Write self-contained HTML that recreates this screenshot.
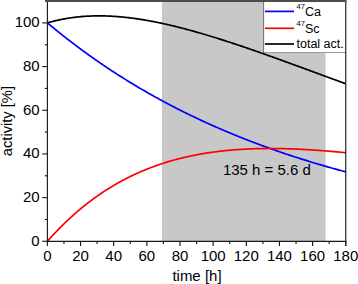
<!DOCTYPE html>
<html><head><meta charset="utf-8"><style>
html,body{margin:0;padding:0;background:#fff;}
body{width:358px;height:284px;overflow:hidden;position:relative;}
svg{position:absolute;left:0;top:0;}
text{font-family:"Liberation Sans",sans-serif;fill:#000;}
</style></head><body>
<svg width="358" height="284" viewBox="0 0 358 284">
<rect x="161.9" y="0" width="163.70" height="241.30" fill="#c8c8c8"/>
<rect x="263.6" y="0" width="82.15" height="52.5" fill="#fff"/><line x1="263.6" y1="0" x2="263.6" y2="53" stroke="#707070" stroke-width="1"/><line x1="263.1" y1="52.5" x2="345.75" y2="52.5" stroke="#999" stroke-width="1"/>
<g fill="none" stroke-width="1.7" stroke-linejoin="round">
<path d="M47.40,22.90 L48.23,22.66 L49.06,22.42 L49.89,22.19 L50.71,21.96 L51.54,21.74 L52.37,21.52 L53.20,21.31 L54.03,21.10 L54.86,20.90 L55.69,20.70 L56.52,20.50 L57.34,20.31 L58.17,20.12 L59.00,19.94 L59.83,19.77 L60.66,19.59 L61.49,19.42 L62.32,19.26 L63.15,19.10 L63.98,18.94 L64.80,18.79 L65.63,18.65 L66.46,18.50 L67.29,18.36 L68.12,18.23 L68.95,18.10 L69.78,17.97 L70.61,17.85 L71.43,17.73 L72.26,17.61 L73.09,17.50 L73.92,17.40 L74.75,17.29 L75.58,17.19 L76.41,17.10 L77.23,17.01 L78.06,16.92 L78.89,16.84 L79.72,16.76 L80.55,16.68 L81.38,16.61 L82.21,16.54 L83.04,16.47 L83.87,16.41 L84.69,16.35 L85.52,16.29 L86.35,16.24 L87.18,16.19 L88.01,16.15 L88.84,16.11 L89.67,16.07 L90.50,16.04 L91.32,16.01 L92.15,15.98 L92.98,15.95 L93.81,15.93 L94.64,15.91 L95.47,15.90 L96.30,15.89 L97.12,15.88 L97.95,15.87 L98.78,15.87 L99.61,15.87 L100.44,15.88 L101.27,15.89 L102.10,15.90 L102.93,15.91 L103.75,15.93 L104.58,15.94 L105.41,15.97 L106.24,15.99 L107.07,16.02 L107.90,16.05 L108.73,16.09 L109.56,16.12 L110.39,16.16 L111.21,16.20 L112.04,16.25 L112.87,16.30 L113.70,16.35 L114.53,16.40 L115.36,16.46 L116.19,16.52 L117.02,16.58 L117.84,16.64 L118.67,16.71 L119.50,16.78 L120.33,16.85 L121.16,16.92 L121.99,17.00 L122.82,17.08 L123.65,17.16 L124.47,17.25 L125.30,17.33 L126.13,17.42 L126.96,17.51 L127.79,17.61 L128.62,17.71 L129.45,17.80 L130.28,17.91 L131.10,18.01 L131.93,18.11 L132.76,18.22 L133.59,18.33 L134.42,18.45 L135.25,18.56 L136.08,18.68 L136.91,18.80 L137.73,18.92 L138.56,19.04 L139.39,19.17 L140.22,19.29 L141.05,19.42 L141.88,19.56 L142.71,19.69 L143.53,19.83 L144.36,19.96 L145.19,20.11 L146.02,20.25 L146.85,20.39 L147.68,20.54 L148.51,20.69 L149.34,20.84 L150.17,20.99 L150.99,21.14 L151.82,21.30 L152.65,21.45 L153.48,21.61 L154.31,21.77 L155.14,21.94 L155.97,22.10 L156.80,22.27 L157.62,22.44 L158.45,22.61 L159.28,22.78 L160.11,22.95 L160.94,23.13 L161.77,23.31 L162.60,23.48 L163.43,23.67 L164.25,23.85 L165.08,24.03 L165.91,24.22 L166.74,24.40 L167.57,24.59 L168.40,24.78 L169.23,24.97 L170.06,25.17 L170.88,25.36 L171.71,25.56 L172.54,25.75 L173.37,25.95 L174.20,26.15 L175.03,26.36 L175.86,26.56 L176.69,26.77 L177.51,26.97 L178.34,27.18 L179.17,27.39 L180.00,27.60 L180.83,27.81 L181.66,28.03 L182.49,28.24 L183.32,28.46 L184.14,28.67 L184.97,28.89 L185.80,29.11 L186.63,29.33 L187.46,29.56 L188.29,29.78 L189.12,30.01 L189.95,30.23 L190.77,30.46 L191.60,30.69 L192.43,30.92 L193.26,31.15 L194.09,31.38 L194.92,31.61 L195.75,31.85 L196.58,32.08 L197.40,32.32 L198.23,32.56 L199.06,32.80 L199.89,33.04 L200.72,33.28 L201.55,33.52 L202.38,33.77 L203.21,34.01 L204.03,34.25 L204.86,34.50 L205.69,34.75 L206.52,35.00 L207.35,35.25 L208.18,35.50 L209.01,35.75 L209.84,36.00 L210.66,36.25 L211.49,36.51 L212.32,36.76 L213.15,37.02 L213.98,37.27 L214.81,37.53 L215.64,37.79 L216.47,38.04 L217.29,38.30 L218.12,38.56 L218.95,38.82 L219.78,39.08 L220.61,39.34 L221.44,39.61 L222.27,39.87 L223.10,40.13 L223.92,40.40 L224.75,40.66 L225.58,40.93 L226.41,41.20 L227.24,41.46 L228.07,41.73 L228.90,42.00 L229.73,42.27 L230.55,42.54 L231.38,42.81 L232.21,43.09 L233.04,43.36 L233.87,43.63 L234.70,43.91 L235.53,44.18 L236.36,44.46 L237.18,44.73 L238.01,45.01 L238.84,45.29 L239.67,45.56 L240.50,45.84 L241.33,46.12 L242.16,46.40 L242.99,46.68 L243.81,46.96 L244.64,47.25 L245.47,47.53 L246.30,47.81 L247.13,48.09 L247.96,48.38 L248.79,48.66 L249.62,48.95 L250.44,49.23 L251.27,49.52 L252.10,49.80 L252.93,50.09 L253.76,50.38 L254.59,50.66 L255.42,50.95 L256.25,51.24 L257.07,51.53 L257.90,51.82 L258.73,52.11 L259.56,52.40 L260.39,52.69 L261.22,52.98 L262.05,53.27 L262.88,53.57 L263.70,53.86 L264.53,54.15 L265.36,54.44 L266.19,54.74 L267.02,55.03 L267.85,55.33 L268.68,55.62 L269.50,55.91 L270.33,56.21 L271.16,56.51 L271.99,56.80 L272.82,57.10 L273.65,57.39 L274.48,57.69 L275.31,57.99 L276.13,58.29 L276.96,58.58 L277.79,58.88 L278.62,59.18 L279.45,59.48 L280.28,59.78 L281.11,60.08 L281.94,60.38 L282.77,60.68 L283.59,60.98 L284.42,61.28 L285.25,61.58 L286.08,61.88 L286.91,62.18 L287.74,62.48 L288.57,62.78 L289.40,63.08 L290.22,63.38 L291.05,63.68 L291.88,63.99 L292.71,64.29 L293.54,64.59 L294.37,64.89 L295.20,65.20 L296.03,65.50 L296.85,65.80 L297.68,66.10 L298.51,66.41 L299.34,66.71 L300.17,67.01 L301.00,67.32 L301.83,67.62 L302.66,67.92 L303.48,68.23 L304.31,68.53 L305.14,68.84 L305.97,69.14 L306.80,69.45 L307.63,69.75 L308.46,70.05 L309.29,70.36 L310.11,70.66 L310.94,70.97 L311.77,71.27 L312.60,71.58 L313.43,71.88 L314.26,72.19 L315.09,72.49 L315.92,72.80 L316.74,73.10 L317.57,73.41 L318.40,73.71 L319.23,74.02 L320.06,74.32 L320.89,74.63 L321.72,74.93 L322.55,75.24 L323.37,75.54 L324.20,75.85 L325.03,76.15 L325.86,76.46 L326.69,76.76 L327.52,77.07 L328.35,77.37 L329.18,77.68 L330.00,77.98 L330.83,78.29 L331.66,78.59 L332.49,78.90 L333.32,79.20 L334.15,79.51 L334.98,79.81 L335.81,80.12 L336.63,80.42 L337.46,80.73 L338.29,81.03 L339.12,81.33 L339.95,81.64 L340.78,81.94 L341.61,82.25 L342.44,82.55 L343.26,82.85 L344.09,83.16 L344.92,83.46 L345.75,83.77" stroke="#000"/>
<path d="M47.40,22.90 L48.23,23.59 L49.06,24.29 L49.89,24.98 L50.71,25.66 L51.54,26.35 L52.37,27.03 L53.20,27.71 L54.03,28.39 L54.86,29.07 L55.69,29.74 L56.52,30.42 L57.34,31.09 L58.17,31.75 L59.00,32.42 L59.83,33.08 L60.66,33.75 L61.49,34.41 L62.32,35.06 L63.15,35.72 L63.98,36.37 L64.80,37.02 L65.63,37.67 L66.46,38.32 L67.29,38.97 L68.12,39.61 L68.95,40.25 L69.78,40.89 L70.61,41.53 L71.43,42.16 L72.26,42.79 L73.09,43.43 L73.92,44.05 L74.75,44.68 L75.58,45.31 L76.41,45.93 L77.23,46.55 L78.06,47.17 L78.89,47.79 L79.72,48.40 L80.55,49.01 L81.38,49.63 L82.21,50.23 L83.04,50.84 L83.87,51.45 L84.69,52.05 L85.52,52.65 L86.35,53.25 L87.18,53.85 L88.01,54.45 L88.84,55.04 L89.67,55.63 L90.50,56.22 L91.32,56.81 L92.15,57.40 L92.98,57.98 L93.81,58.56 L94.64,59.14 L95.47,59.72 L96.30,60.30 L97.12,60.88 L97.95,61.45 L98.78,62.02 L99.61,62.59 L100.44,63.16 L101.27,63.73 L102.10,64.29 L102.93,64.85 L103.75,65.41 L104.58,65.97 L105.41,66.53 L106.24,67.09 L107.07,67.64 L107.90,68.19 L108.73,68.74 L109.56,69.29 L110.39,69.84 L111.21,70.38 L112.04,70.92 L112.87,71.47 L113.70,72.01 L114.53,72.54 L115.36,73.08 L116.19,73.62 L117.02,74.15 L117.84,74.68 L118.67,75.21 L119.50,75.74 L120.33,76.26 L121.16,76.79 L121.99,77.31 L122.82,77.83 L123.65,78.35 L124.47,78.87 L125.30,79.39 L126.13,79.90 L126.96,80.41 L127.79,80.93 L128.62,81.44 L129.45,81.94 L130.28,82.45 L131.10,82.95 L131.93,83.46 L132.76,83.96 L133.59,84.46 L134.42,84.96 L135.25,85.46 L136.08,85.95 L136.91,86.44 L137.73,86.94 L138.56,87.43 L139.39,87.92 L140.22,88.40 L141.05,88.89 L141.88,89.37 L142.71,89.86 L143.53,90.34 L144.36,90.82 L145.19,91.30 L146.02,91.77 L146.85,92.25 L147.68,92.72 L148.51,93.20 L149.34,93.67 L150.17,94.14 L150.99,94.60 L151.82,95.07 L152.65,95.53 L153.48,96.00 L154.31,96.46 L155.14,96.92 L155.97,97.38 L156.80,97.84 L157.62,98.29 L158.45,98.75 L159.28,99.20 L160.11,99.65 L160.94,100.10 L161.77,100.55 L162.60,101.00 L163.43,101.44 L164.25,101.89 L165.08,102.33 L165.91,102.77 L166.74,103.21 L167.57,103.65 L168.40,104.09 L169.23,104.53 L170.06,104.96 L170.88,105.39 L171.71,105.83 L172.54,106.26 L173.37,106.69 L174.20,107.11 L175.03,107.54 L175.86,107.97 L176.69,108.39 L177.51,108.81 L178.34,109.23 L179.17,109.65 L180.00,110.07 L180.83,110.49 L181.66,110.90 L182.49,111.32 L183.32,111.73 L184.14,112.14 L184.97,112.55 L185.80,112.96 L186.63,113.37 L187.46,113.78 L188.29,114.18 L189.12,114.59 L189.95,114.99 L190.77,115.39 L191.60,115.79 L192.43,116.19 L193.26,116.59 L194.09,116.98 L194.92,117.38 L195.75,117.77 L196.58,118.17 L197.40,118.56 L198.23,118.95 L199.06,119.34 L199.89,119.72 L200.72,120.11 L201.55,120.50 L202.38,120.88 L203.21,121.26 L204.03,121.64 L204.86,122.02 L205.69,122.40 L206.52,122.78 L207.35,123.16 L208.18,123.53 L209.01,123.91 L209.84,124.28 L210.66,124.65 L211.49,125.02 L212.32,125.39 L213.15,125.76 L213.98,126.13 L214.81,126.50 L215.64,126.86 L216.47,127.22 L217.29,127.59 L218.12,127.95 L218.95,128.31 L219.78,128.67 L220.61,129.03 L221.44,129.38 L222.27,129.74 L223.10,130.09 L223.92,130.45 L224.75,130.80 L225.58,131.15 L226.41,131.50 L227.24,131.85 L228.07,132.20 L228.90,132.54 L229.73,132.89 L230.55,133.23 L231.38,133.58 L232.21,133.92 L233.04,134.26 L233.87,134.60 L234.70,134.94 L235.53,135.28 L236.36,135.62 L237.18,135.95 L238.01,136.29 L238.84,136.62 L239.67,136.95 L240.50,137.29 L241.33,137.62 L242.16,137.95 L242.99,138.27 L243.81,138.60 L244.64,138.93 L245.47,139.25 L246.30,139.58 L247.13,139.90 L247.96,140.22 L248.79,140.54 L249.62,140.86 L250.44,141.18 L251.27,141.50 L252.10,141.82 L252.93,142.14 L253.76,142.45 L254.59,142.76 L255.42,143.08 L256.25,143.39 L257.07,143.70 L257.90,144.01 L258.73,144.32 L259.56,144.63 L260.39,144.94 L261.22,145.24 L262.05,145.55 L262.88,145.85 L263.70,146.16 L264.53,146.46 L265.36,146.76 L266.19,147.06 L267.02,147.36 L267.85,147.66 L268.68,147.96 L269.50,148.25 L270.33,148.55 L271.16,148.84 L271.99,149.14 L272.82,149.43 L273.65,149.72 L274.48,150.01 L275.31,150.30 L276.13,150.59 L276.96,150.88 L277.79,151.17 L278.62,151.45 L279.45,151.74 L280.28,152.03 L281.11,152.31 L281.94,152.59 L282.77,152.87 L283.59,153.15 L284.42,153.44 L285.25,153.71 L286.08,153.99 L286.91,154.27 L287.74,154.55 L288.57,154.82 L289.40,155.10 L290.22,155.37 L291.05,155.64 L291.88,155.92 L292.71,156.19 L293.54,156.46 L294.37,156.73 L295.20,157.00 L296.03,157.27 L296.85,157.53 L297.68,157.80 L298.51,158.06 L299.34,158.33 L300.17,158.59 L301.00,158.86 L301.83,159.12 L302.66,159.38 L303.48,159.64 L304.31,159.90 L305.14,160.16 L305.97,160.42 L306.80,160.67 L307.63,160.93 L308.46,161.18 L309.29,161.44 L310.11,161.69 L310.94,161.95 L311.77,162.20 L312.60,162.45 L313.43,162.70 L314.26,162.95 L315.09,163.20 L315.92,163.45 L316.74,163.69 L317.57,163.94 L318.40,164.19 L319.23,164.43 L320.06,164.68 L320.89,164.92 L321.72,165.16 L322.55,165.40 L323.37,165.65 L324.20,165.89 L325.03,166.13 L325.86,166.37 L326.69,166.60 L327.52,166.84 L328.35,167.08 L329.18,167.31 L330.00,167.55 L330.83,167.78 L331.66,168.02 L332.49,168.25 L333.32,168.48 L334.15,168.71 L334.98,168.94 L335.81,169.17 L336.63,169.40 L337.46,169.63 L338.29,169.86 L339.12,170.09 L339.95,170.31 L340.78,170.54 L341.61,170.76 L342.44,170.99 L343.26,171.21 L344.09,171.43 L344.92,171.66 L345.75,171.88" stroke="#0000ff"/>
<path d="M47.40,241.30 L48.23,240.36 L49.06,239.43 L49.89,238.51 L50.71,237.59 L51.54,236.68 L52.37,235.78 L53.20,234.88 L54.03,233.99 L54.86,233.11 L55.69,232.23 L56.52,231.36 L57.34,230.50 L58.17,229.64 L59.00,228.79 L59.83,227.95 L60.66,227.11 L61.49,226.28 L62.32,225.46 L63.15,224.64 L63.98,223.83 L64.80,223.02 L65.63,222.22 L66.46,221.43 L67.29,220.64 L68.12,219.86 L68.95,219.09 L69.78,218.32 L70.61,217.56 L71.43,216.80 L72.26,216.05 L73.09,215.31 L73.92,214.57 L74.75,213.84 L75.58,213.11 L76.41,212.39 L77.23,211.68 L78.06,210.97 L78.89,210.26 L79.72,209.57 L80.55,208.87 L81.38,208.19 L82.21,207.51 L83.04,206.83 L83.87,206.16 L84.69,205.50 L85.52,204.84 L86.35,204.18 L87.18,203.54 L88.01,202.89 L88.84,202.26 L89.67,201.62 L90.50,201.00 L91.32,200.38 L92.15,199.76 L92.98,199.15 L93.81,198.54 L94.64,197.94 L95.47,197.35 L96.30,196.75 L97.12,196.17 L97.95,195.59 L98.78,195.01 L99.61,194.44 L100.44,193.87 L101.27,193.31 L102.10,192.76 L102.93,192.21 L103.75,191.66 L104.58,191.12 L105.41,190.58 L106.24,190.05 L107.07,189.52 L107.90,189.00 L108.73,188.48 L109.56,187.96 L110.39,187.45 L111.21,186.95 L112.04,186.45 L112.87,185.95 L113.70,185.46 L114.53,184.98 L115.36,184.49 L116.19,184.01 L117.02,183.54 L117.84,183.07 L118.67,182.61 L119.50,182.14 L120.33,181.69 L121.16,181.24 L121.99,180.79 L122.82,180.34 L123.65,179.90 L124.47,179.47 L125.30,179.04 L126.13,178.61 L126.96,178.18 L127.79,177.77 L128.62,177.35 L129.45,176.94 L130.28,176.53 L131.10,176.13 L131.93,175.73 L132.76,175.33 L133.59,174.94 L134.42,174.55 L135.25,174.17 L136.08,173.79 L136.91,173.41 L137.73,173.04 L138.56,172.67 L139.39,172.30 L140.22,171.94 L141.05,171.58 L141.88,171.23 L142.71,170.87 L143.53,170.53 L144.36,170.18 L145.19,169.84 L146.02,169.51 L146.85,169.17 L147.68,168.84 L148.51,168.52 L149.34,168.19 L150.17,167.87 L150.99,167.56 L151.82,167.24 L152.65,166.93 L153.48,166.63 L154.31,166.33 L155.14,166.03 L155.97,165.73 L156.80,165.44 L157.62,165.15 L158.45,164.86 L159.28,164.58 L160.11,164.30 L160.94,164.02 L161.77,163.75 L162.60,163.47 L163.43,163.21 L164.25,162.94 L165.08,162.68 L165.91,162.42 L166.74,162.17 L167.57,161.91 L168.40,161.66 L169.23,161.42 L170.06,161.17 L170.88,160.93 L171.71,160.69 L172.54,160.46 L173.37,160.23 L174.20,160.00 L175.03,159.77 L175.86,159.55 L176.69,159.33 L177.51,159.11 L178.34,158.89 L179.17,158.68 L180.00,158.47 L180.83,158.26 L181.66,158.06 L182.49,157.85 L183.32,157.66 L184.14,157.46 L184.97,157.26 L185.80,157.07 L186.63,156.88 L187.46,156.70 L188.29,156.51 L189.12,156.33 L189.95,156.15 L190.77,155.98 L191.60,155.80 L192.43,155.63 L193.26,155.46 L194.09,155.30 L194.92,155.13 L195.75,154.97 L196.58,154.81 L197.40,154.66 L198.23,154.50 L199.06,154.35 L199.89,154.20 L200.72,154.05 L201.55,153.91 L202.38,153.76 L203.21,153.62 L204.03,153.49 L204.86,153.35 L205.69,153.21 L206.52,153.08 L207.35,152.95 L208.18,152.83 L209.01,152.70 L209.84,152.58 L210.66,152.46 L211.49,152.34 L212.32,152.22 L213.15,152.11 L213.98,151.99 L214.81,151.88 L215.64,151.78 L216.47,151.67 L217.29,151.56 L218.12,151.46 L218.95,151.36 L219.78,151.26 L220.61,151.17 L221.44,151.07 L222.27,150.98 L223.10,150.89 L223.92,150.80 L224.75,150.71 L225.58,150.63 L226.41,150.55 L227.24,150.46 L228.07,150.39 L228.90,150.31 L229.73,150.23 L230.55,150.16 L231.38,150.09 L232.21,150.02 L233.04,149.95 L233.87,149.88 L234.70,149.82 L235.53,149.75 L236.36,149.69 L237.18,149.63 L238.01,149.57 L238.84,149.52 L239.67,149.46 L240.50,149.41 L241.33,149.36 L242.16,149.31 L242.99,149.26 L243.81,149.21 L244.64,149.17 L245.47,149.12 L246.30,149.08 L247.13,149.04 L247.96,149.00 L248.79,148.97 L249.62,148.93 L250.44,148.90 L251.27,148.86 L252.10,148.83 L252.93,148.80 L253.76,148.78 L254.59,148.75 L255.42,148.72 L256.25,148.70 L257.07,148.68 L257.90,148.66 L258.73,148.64 L259.56,148.62 L260.39,148.60 L261.22,148.59 L262.05,148.58 L262.88,148.56 L263.70,148.55 L264.53,148.54 L265.36,148.53 L266.19,148.53 L267.02,148.52 L267.85,148.52 L268.68,148.51 L269.50,148.51 L270.33,148.51 L271.16,148.51 L271.99,148.51 L272.82,148.52 L273.65,148.52 L274.48,148.53 L275.31,148.54 L276.13,148.54 L276.96,148.55 L277.79,148.56 L278.62,148.58 L279.45,148.59 L280.28,148.60 L281.11,148.62 L281.94,148.63 L282.77,148.65 L283.59,148.67 L284.42,148.69 L285.25,148.71 L286.08,148.73 L286.91,148.76 L287.74,148.78 L288.57,148.81 L289.40,148.83 L290.22,148.86 L291.05,148.89 L291.88,148.92 L292.71,148.95 L293.54,148.98 L294.37,149.01 L295.20,149.05 L296.03,149.08 L296.85,149.12 L297.68,149.16 L298.51,149.19 L299.34,149.23 L300.17,149.27 L301.00,149.31 L301.83,149.35 L302.66,149.40 L303.48,149.44 L304.31,149.48 L305.14,149.53 L305.97,149.58 L306.80,149.62 L307.63,149.67 L308.46,149.72 L309.29,149.77 L310.11,149.82 L310.94,149.87 L311.77,149.92 L312.60,149.98 L313.43,150.03 L314.26,150.09 L315.09,150.14 L315.92,150.20 L316.74,150.26 L317.57,150.32 L318.40,150.37 L319.23,150.43 L320.06,150.50 L320.89,150.56 L321.72,150.62 L322.55,150.68 L323.37,150.75 L324.20,150.81 L325.03,150.88 L325.86,150.94 L326.69,151.01 L327.52,151.08 L328.35,151.15 L329.18,151.21 L330.00,151.28 L330.83,151.35 L331.66,151.43 L332.49,151.50 L333.32,151.57 L334.15,151.64 L334.98,151.72 L335.81,151.79 L336.63,151.87 L337.46,151.94 L338.29,152.02 L339.12,152.10 L339.95,152.18 L340.78,152.25 L341.61,152.33 L342.44,152.41 L343.26,152.49 L344.09,152.57 L344.92,152.66 L345.75,152.74" stroke="#ff0000"/>
</g>
<g stroke="#1a1a1a" stroke-width="1.15"><line x1="47.40" y1="241.30" x2="47.40" y2="246.10"/><line x1="80.55" y1="241.30" x2="80.55" y2="246.10"/><line x1="113.70" y1="241.30" x2="113.70" y2="246.10"/><line x1="146.85" y1="241.30" x2="146.85" y2="246.10"/><line x1="180.00" y1="241.30" x2="180.00" y2="246.10"/><line x1="213.15" y1="241.30" x2="213.15" y2="246.10"/><line x1="246.30" y1="241.30" x2="246.30" y2="246.10"/><line x1="279.45" y1="241.30" x2="279.45" y2="246.10"/><line x1="312.60" y1="241.30" x2="312.60" y2="246.10"/><line x1="345.75" y1="241.30" x2="345.75" y2="246.10"/><line x1="63.98" y1="241.30" x2="63.98" y2="244.00"/><line x1="97.12" y1="241.30" x2="97.12" y2="244.00"/><line x1="130.28" y1="241.30" x2="130.28" y2="244.00"/><line x1="163.43" y1="241.30" x2="163.43" y2="244.00"/><line x1="196.58" y1="241.30" x2="196.58" y2="244.00"/><line x1="229.73" y1="241.30" x2="229.73" y2="244.00"/><line x1="262.88" y1="241.30" x2="262.88" y2="244.00"/><line x1="296.03" y1="241.30" x2="296.03" y2="244.00"/><line x1="329.18" y1="241.30" x2="329.18" y2="244.00"/><line x1="47.40" y1="241.30" x2="42.20" y2="241.30"/><line x1="47.40" y1="197.62" x2="42.20" y2="197.62"/><line x1="47.40" y1="153.94" x2="42.20" y2="153.94"/><line x1="47.40" y1="110.26" x2="42.20" y2="110.26"/><line x1="47.40" y1="66.58" x2="42.20" y2="66.58"/><line x1="47.40" y1="22.90" x2="42.20" y2="22.90"/><line x1="47.40" y1="219.46" x2="44.80" y2="219.46"/><line x1="47.40" y1="175.78" x2="44.80" y2="175.78"/><line x1="47.40" y1="132.10" x2="44.80" y2="132.10"/><line x1="47.40" y1="88.42" x2="44.80" y2="88.42"/><line x1="47.40" y1="44.74" x2="44.80" y2="44.74"/></g>
<g stroke="#1a1a1a" stroke-width="1.15" fill="none">
<line x1="47.4" y1="0" x2="47.4" y2="241.95000000000002"/>
<line x1="46.75" y1="241.3" x2="346.4" y2="241.3"/>
<line x1="345.75" y1="0" x2="345.75" y2="246.10000000000002"/>
<rect x="45" y="0" width="301.40" height="2.0" fill="#4d4d4d" stroke="none"/>
</g>
<g font-size="15"><text x="47.40" y="260.9" text-anchor="middle">0</text><text x="80.55" y="260.9" text-anchor="middle">20</text><text x="113.70" y="260.9" text-anchor="middle">40</text><text x="146.85" y="260.9" text-anchor="middle">60</text><text x="180.00" y="260.9" text-anchor="middle">80</text><text x="213.15" y="260.9" text-anchor="middle">100</text><text x="246.30" y="260.9" text-anchor="middle">120</text><text x="279.45" y="260.9" text-anchor="middle">140</text><text x="312.60" y="260.9" text-anchor="middle">160</text><text x="345.75" y="260.9" text-anchor="middle">180</text><text x="39.7" y="245.80" text-anchor="end">0</text><text x="39.7" y="202.12" text-anchor="end">20</text><text x="39.7" y="158.44" text-anchor="end">40</text><text x="39.7" y="114.76" text-anchor="end">60</text><text x="39.7" y="71.08" text-anchor="end">80</text><text x="39.7" y="27.40" text-anchor="end">100</text>
<text x="196.97" y="280.8" text-anchor="middle" font-size="15">time [h]</text>
<text transform="translate(11.7,121.1) rotate(-90)" text-anchor="middle" font-size="14.7">activity [%]</text>
<text x="222.9" y="174.6">135 h = 5.6 d</text>
</g>
<g stroke-width="1.7">
<line x1="264.9" y1="11.4" x2="294" y2="11.4" stroke="#0000ff"/>
<line x1="264.9" y1="28.3" x2="294" y2="28.3" stroke="#ff0000"/>
<line x1="264.9" y1="44.0" x2="294" y2="44.0" stroke="#000"/>
</g>
<g font-size="12.5">
<text x="296.5" y="15.95"><tspan font-size="7.6" dy="-6.7">47</tspan><tspan dy="6.7">Ca</tspan></text>
<text x="296.5" y="33.0"><tspan font-size="7.6" dy="-6.7">47</tspan><tspan dy="6.7">Sc</tspan></text>
<text x="296.5" y="48.4">total act.</text>
</g>
</svg>
</body></html>
